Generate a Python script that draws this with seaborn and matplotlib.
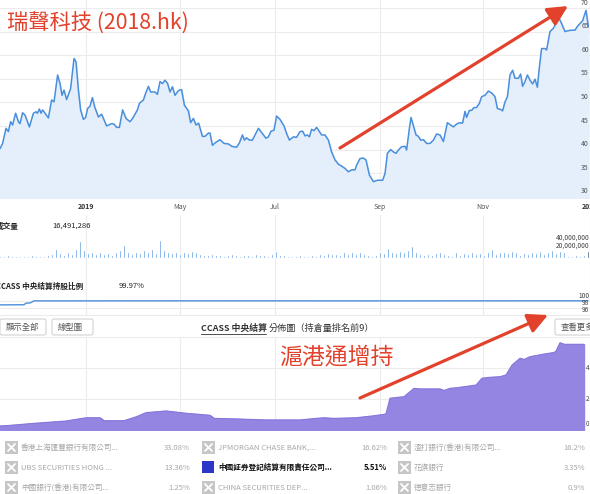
import matplotlib
matplotlib.use("Agg")
import matplotlib.pyplot as plt
from matplotlib.patches import Rectangle, FancyBboxPatch
import seaborn as sns
import numpy as np

# ---- data (x in trading-day units) ----
price_day = [0, 1.3, 3, 4.2, 5.3, 6.3, 7.8, 9.2, 10, 11.3, 12.5, 14.7, 16.7, 18, 18.7, 19.7, 20.5, 21.3,
             22.5, 24.2, 25.8, 27, 28.8, 30, 31, 32, 33.3, 35.3, 37, 38, 39.2, 40.3, 41.7, 42.8, 43.8, 45,
             46.2, 47.3, 49.2, 50.8, 53.3, 55.8, 57, 58.3, 59.7, 61.3, 63, 65, 66.3, 68.7, 69.7, 71.7,
             72.8, 74.2, 75.3, 77.5, 78.7, 80, 81.2, 82.5, 83.8, 85, 86.2, 87.5, 89.2, 90.8, 92.2, 94.2,
             95.3, 96.7, 98, 99.3, 101.2, 102.5, 104.2, 105, 106.2, 107.5, 110, 112, 114.2, 115.8, 118.3,
             119.7, 121.2, 122.2, 123.3, 124.7, 126.2, 127.5, 129.2, 130.8, 133, 134.2, 135.5, 137, 138.3,
             140, 142, 143.3, 144.7, 146.7, 148.3, 150, 151.3, 152.5, 153.7, 154.7, 155.8, 157, 158.3,
             159.7, 160.8, 162.5, 164.2, 165.8, 167.5, 169.2, 170.8, 172.5, 174.2, 175.8, 177.5, 178.3,
             180, 181.7, 183, 184.7, 186.7, 188.7, 191.3, 192.5, 193.7, 195.3, 196.7, 198, 199.2, 200.8,
             202.5, 203.3, 204.7, 205.5, 206.7, 208, 209.2, 210.3, 211.7, 213.3, 215, 216.7, 218.3, 220,
             221.7, 223.7, 225.3, 226.7, 228.3, 229.7, 231.3, 232.5, 233.3, 234.7, 235.8, 237, 238.3,
             239.7, 240.8, 242.5, 244.2, 245.8, 247.5, 248.7, 250.3, 251.3, 252.5, 253.7, 255, 256.3,
             257.5, 259.2, 260.3, 261.3, 262.5, 263.7, 265, 266.3, 267.5, 268.7, 269.7, 270.8, 272.5,
             273.3, 275, 276.7, 277.8, 279.2, 280.8, 282.5, 284.2, 285.8, 287.5, 288.7, 290, 291.3, 293,
             294.2]
price = [40.2, 41.3, 44.5, 43.8, 45.9, 45.2, 47.7, 45.9, 45.5, 47.8, 47.3, 44.8, 47.7, 48.0, 47.7, 48.6,
         47.7, 48.4, 47.7, 46.7, 50.5, 50.1, 55.8, 54.0, 51.5, 52.6, 50.6, 52.9, 59.3, 58.6, 52.6, 48.4,
         46.4, 46.8, 48.7, 49.2, 51.0, 49.1, 46.9, 47.5, 45.0, 45.5, 45.4, 44.7, 44.7, 48.4, 46.6, 45.9,
         46.6, 48.4, 49.8, 50.5, 51.9, 53.4, 52.2, 52.2, 51.7, 54.4, 54.0, 54.7, 54.0, 52.2, 53.3, 51.5,
         52.5, 52.7, 49.4, 48.2, 45.7, 46.6, 45.2, 45.6, 42.8, 42.8, 43.5, 43.5, 40.9, 41.4, 42.1, 41.3,
         41.2, 40.7, 40.5, 41.4, 43.1, 42.0, 42.5, 42.0, 42.0, 43.1, 44.5, 43.6, 42.4, 42.7, 43.9, 44.1,
         47.1, 46.4, 45.0, 43.4, 42.0, 42.7, 42.6, 43.8, 43.9, 42.9, 43.1, 42.7, 44.3, 44.0, 44.7, 43.8,
         43.1, 43.1, 42.0, 39.5, 37.8, 36.9, 36.5, 36.0, 35.3, 35.7, 35.7, 36.7, 38.1, 38.2, 37.8, 34.6,
         33.2, 33.5, 33.5, 34.9, 39.2, 40.0, 39.5, 39.2, 39.9, 40.6, 40.7, 39.9, 44.5, 46.8, 45.0, 43.1,
         42.8, 42.0, 42.1, 41.3, 41.3, 42.0, 43.3, 43.1, 41.7, 45.7, 45.2, 44.8, 45.4, 45.7, 45.6, 48.1,
         46.8, 48.3, 48.3, 48.9, 48.9, 49.8, 51.2, 51.5, 52.4, 52.0, 51.2, 48.7, 48.5, 48.2, 50.1, 51.2,
         55.8, 56.8, 55.1, 55.1, 56.0, 53.4, 54.4, 55.8, 54.7, 53.9, 54.9, 53.2, 57.5, 61.4, 61.4, 61.1,
         65.0, 65.7, 66.6, 68.1, 66.7, 65.0, 65.2, 65.3, 65.3, 66.1, 66.7, 67.3, 69.5, 66.0]

# daily volume in millions, one bar every 2 trading days
volume_m = [6, 5, 7, 5, 6, 5, 6, 5, 7, 5, 6, 5, 7, 9, 22, 12, 8, 14, 10, 22,
            42, 20, 12, 16, 10, 14, 9, 12, 8, 15, 20, 32, 14, 10, 16, 12, 20, 14, 22, 12,
            46, 20, 16, 12, 14, 10, 15, 12, 18, 14, 10, 8, 7, 9, 7, 8, 6, 7, 9, 8,
            6, 7, 8, 6, 9, 7, 8, 6, 9, 17, 8, 7, 6, 5, 6, 7, 5, 6, 8, 6,
            10, 7, 12, 9, 11, 8, 14, 10, 16, 10, 14, 9, 7, 6, 8, 14, 12, 26, 16, 12,
            18, 14, 20, 30, 14, 10, 8, 9, 7, 12, 15, 10, 8, 6, 14, 8, 12, 10, 14, 9,
            12, 8, 14, 22, 10, 14, 16, 12, 18, 14, 8, 12, 10, 16, 12, 18, 10, 14, 20, 12,
            18, 14, 6, 5, 7, 6, 8, 16.49]
volume_day = [2 * i for i in range(len(volume_m))]

ccass_day = [0, 12, 13, 15, 17, 100, 200, 294]
ccass_pct = [98.8, 98.85, 99.3, 99.35, 99.95, 99.96, 99.95, 99.97]

connect_day = [0, 5, 17, 33, 43, 50, 52, 62, 68, 73, 83, 93, 105, 107, 117, 133, 150, 158, 162, 167,
               178, 187, 192, 193, 195, 202, 207, 210, 220, 222, 225, 228, 238, 241, 245, 250, 253,
               256, 260, 262, 265, 272, 277, 278, 280, 282, 292]
connect_val = [0.26, 0.3, 0.43, 0.58, 0.79, 0.79, 0.6, 0.6, 0.85, 1.12, 1.23, 1.08, 0.95, 0.75, 0.72,
               0.65, 0.65, 0.75, 0.79, 0.75, 0.79, 0.92, 1.01, 1.05, 2.05, 2.15, 2.69, 2.65, 2.65, 2.55,
               2.69, 2.72, 2.9, 3.34, 3.4, 3.44, 3.55, 4.19, 4.63, 4.55, 4.73, 4.9, 5.0, 5.1, 5.63,
               5.53, 5.53]

month_labels = ["2019", "May", "Jul", "Sep", "Nov", "2020"]
month_days = [43, 90, 137.5, 190, 241.5, 295]
price_ticks = [70, 65, 60, 55, 50, 45, 40, 35, 30]
vol_ticks = [40, 20]
vol_tick_labels = ["40,000,000", "20,000,000"]
ccass_ticks = [100, 98, 96]
connect_ticks = [4, 2, 0]

holders = [["香港上海匯豐銀行有限公司...", "JPMORGAN CHASE BANK,...", "渣打銀行(香港)有限公司..."],
           ["UBS SECURITIES HONG ...", "中國証券登記結算有限責任公司...", "花旗銀行"],
           ["中國銀行(香港)有限公司...", "CHINA SECURITIES DEP...", "德意志銀行"]]
holder_pct = [["33.08%", "16.62%", "16.2%"],
              ["13.36%", "5.51%", "3.35%"],
              ["1.25%", "1.06%", "0.9%"]]

# ---- style ----
sns.set_theme(style="white")
plt.rcParams['font.family'] = ['Noto Sans CJK TC', 'DejaVu Sans']

W, H = 590, 494
fig = plt.figure(figsize=(W / 100, H / 100), dpi=100)
fig.patch.set_facecolor("white")


def box(x0, y0, x1, y1):
    return [x0 / W, 1 - y1 / H, (x1 - x0) / W, (y1 - y0) / H]


BLUE = "#4a8fdc"
GRID = "#ececec"
LABEL = "#555555"
RED = "#e2412b"
XMAX = 295


def clean(ax):
    for s in ax.spines.values():
        s.set_visible(False)
    ax.set_xticks([])
    ax.set_yticks([])
    ax.set_xlabel("")
    ax.set_ylabel("")
    ax.set_xlim(0, XMAX)


# background strip with vertical grid between panels
bg = fig.add_axes(box(0, 215, 590, 316))
clean(bg)
bg.patch.set_alpha(0)
for d in month_days:
    bg.axvline(d, color=GRID, lw=0.8)

# price panel
ax = fig.add_axes(box(0, 0, 590, 198))
ax.patch.set_alpha(0)
ax.set_ylim(29.74, 71.69)
for v in price_ticks:
    ax.axhline(v, color=GRID, lw=0.8, zorder=0)
for d in month_days:
    ax.axvline(d, color=GRID, lw=0.8, zorder=0)
ax.fill_between(price_day, price, 29.74, color="#e4effb", zorder=1)
sns.lineplot(x=price_day, y=price, ax=ax, color=BLUE, lw=1.1, zorder=2)
clean(ax)
ax.set_ylim(29.74, 71.69)
for v in price_ticks:
    ax.text(0.998, v + 0.3, str(v), transform=ax.get_yaxis_transform(), ha="right", va="bottom",
            fontsize=5, color=LABEL)
for lab, d in zip(month_labels, month_days):
    bold = lab.isdigit()
    ax.text(d, -0.045, lab, transform=ax.get_xaxis_transform(), ha="center", va="center",
            fontsize=5, color="#333333" if bold else LABEL, fontweight="bold" if bold else "normal")

# volume panel
axv = fig.add_axes(box(0, 226, 590, 258))
axv.patch.set_alpha(0)
sns.barplot(x=volume_day, y=volume_m, native_scale=True, width=0.7, color=BLUE, saturation=1,
            ax=axv)
axv.patches[-1].set_facecolor("#1f3d8a")
clean(axv)
axv.set_ylim(0, 80)
for v, lab in zip(vol_ticks, vol_tick_labels):
    axv.text(0.999, v + 1, lab, transform=axv.get_yaxis_transform(), ha="right", va="bottom",
             fontsize=4.8, color="#444444")

# ccass holding ratio panel
axc = fig.add_axes(box(0, 286, 590, 316))
axc.patch.set_alpha(0)
for v in ccass_ticks:
    axc.axhline(v, color=GRID, lw=0.8, zorder=0)
sns.lineplot(x=ccass_day, y=ccass_pct, ax=axc, color=BLUE, lw=1.0)
clean(axc)
axc.set_ylim(95.63, 104.2)
for v in ccass_ticks:
    axc.text(0.999, v + 0.3, str(v), transform=axc.get_yaxis_transform(), ha="right", va="bottom",
             fontsize=4.8, color="#444444")

# stock connect holdings panel
axp = fig.add_axes(box(0, 337, 590, 430))
axp.patch.set_alpha(0)
for v in [2, 4, 6]:
    axp.axhline(v, color=GRID, lw=0.8, zorder=0)
for d in month_days:
    axp.axvline(d, color=GRID, lw=0.8, zorder=0)
axp.fill_between(connect_day, connect_val, 0, color="#9485e2", zorder=1)
sns.lineplot(x=connect_day, y=connect_val, ax=axp, color="#8676dd", lw=0.8, zorder=2)
clean(axp)
axp.set_ylim(0, 6)
for v in connect_ticks:
    axp.text(0.999, v + (0.1 if v == 0 else 0), str(v), transform=axp.get_yaxis_transform(),
             ha="right", va="bottom" if v == 0 else "center", fontsize=4.5, color="#444444")

# ---- overlay in pixel coordinates ----
ov = fig.add_axes([0, 0, 1, 1])
ov.set_xlim(0, W)
ov.set_ylim(H, 0)
ov.axis("off")
ov.patch.set_alpha(0)

ov.text(7, 23, "瑞聲科技 (2018.hk)", fontsize=15.3, color=RED, va="center", ha="left")
ov.text(336, 357, "滬港通增持", fontsize=16.5, color=RED, va="center", ha="center")

ov.text(-4, 226, "成交量", fontsize=5.5, color="#222222", va="center", fontweight="bold")
ov.text(52, 226, "16,491,286", fontsize=5.5, color="#222222", va="center")
ov.text(-4, 286, "CCASS 中央結算持股比例", fontsize=5.5, color="#222222", va="center",
        fontweight="bold")
ov.text(119, 286, "99.97%", fontsize=5.5, color="#222222", va="center")

# buttons
for x0, x1, lab in [(0, 46, "顯示全部"), (52, 93, "線型圖"), (555, 610, "查看更多")]:
    ov.add_patch(FancyBboxPatch((x0, 319), x1 - x0, 16, boxstyle="round,pad=0,rounding_size=2",
                                fc="white", ec="#cccccc", lw=0.7))
    ov.text(x0 + 6, 327.5, lab, fontsize=6, color="#555555", va="center", ha="left")

ov.text(201, 328, "CCASS 中央結算", fontsize=6.4, color="#333333", va="center", ha="left",
        fontweight="bold")
ov.plot([201, 266], [334, 334], color="#333333", lw=0.6)
ov.text(269, 328, "分佈圖（持倉量排名前9）", fontsize=6.6, color="#333333", va="center", ha="left")

# arrows
ov.annotate("", xy=(568, 6), xytext=(340, 148),
            arrowprops=dict(arrowstyle="-|>,head_length=1.0,head_width=0.5", lw=2.3, color=RED,
                            shrinkA=0, shrinkB=0))
ov.annotate("", xy=(548, 315), xytext=(360, 398),
            arrowprops=dict(arrowstyle="-|>,head_length=1.0,head_width=0.5", lw=2.3, color=RED,
                            shrinkA=0, shrinkB=0))

# top-holder table
col_icon = [5, 202, 398]
col_pct = [190, 387, 585]
row_y = [447, 467, 487]
for r, y in enumerate(row_y):
    for c in range(3):
        active = (r == 1 and c == 1)
        x = col_icon[c]
        if active:
            ov.add_patch(Rectangle((x, y - 6), 12, 12, fc="#2c36c9", ec="none"))
        else:
            ov.add_patch(Rectangle((x, y - 6), 13, 13, fc="#c6c6c6", ec="none"))
            ov.plot([x + 3, x + 10], [y - 3, y + 4], color="white", lw=1.3)
            ov.plot([x + 3, x + 10], [y + 4, y - 3], color="white", lw=1.3)
        col = "#111111" if active else "#a8a8a8"
        wt = "bold" if active else "normal"
        ov.text(x + 16, y + 0.5, holders[r][c], fontsize=5.5, color=col, va="center", ha="left",
                fontweight=wt)
        ov.text(col_pct[c], y + 0.5, holder_pct[r][c], fontsize=5.5, color=col, va="center",
                ha="right", fontweight=wt)

fig.savefig("out.png", dpi=100, facecolor="white")
